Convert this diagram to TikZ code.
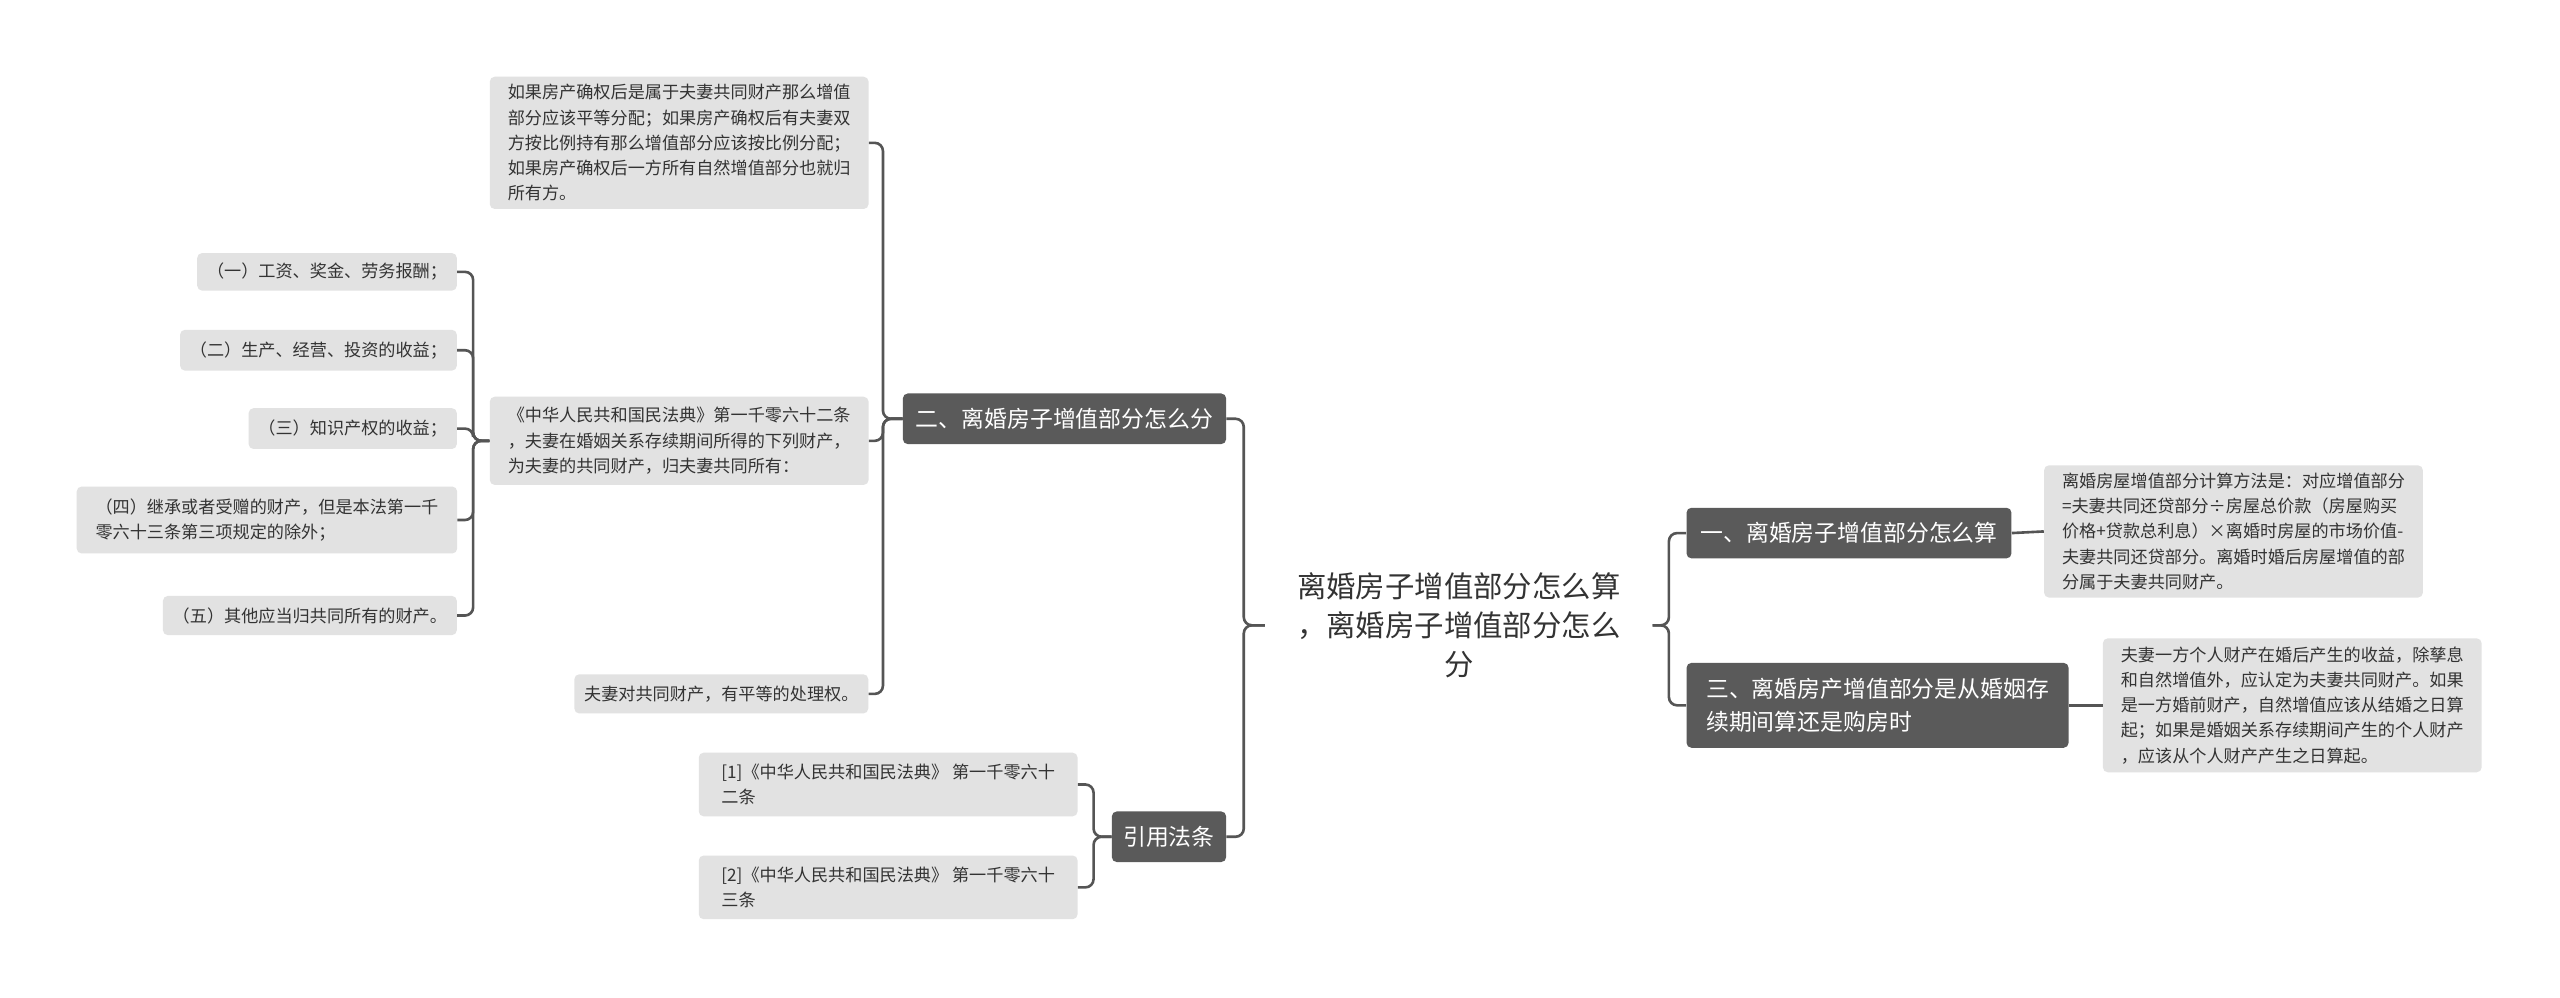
\documentclass[tikz,border=0pt]{standalone}
\usepackage{fontspec}
\setmainfont{Noto Sans CJK SC}
\begin{document}
\begin{tikzpicture}[x=1pt,y=-1pt,
 leaf/.style={fill=leafc,rounded corners=3pt,inner xsep=6pt,inner ysep=4pt,align=left,font=\fontsize{11}{16}\selectfont,text=txt},
 main/.style={fill=darkc,rounded corners=3pt,inner xsep=7pt,inner ysep=5pt,align=left,font=\fontsize{14}{20}\selectfont,text=white},
 conn/.style={draw=linec,line width=1.6pt,rounded corners=5pt}]
\definecolor{leafc}{HTML}{E2E2E2}
\definecolor{darkc}{HTML}{5A5A5A}
\definecolor{linec}{HTML}{555555}
\definecolor{txt}{HTML}{333333}
\useasboundingbox[fill=white] (0,0) rectangle (1568,611);
\node[align=center,font=\fontsize{18}{24}\selectfont,text=txt,text width=215pt,inner sep=11pt] (c) at (893.5,383) {离婚房子增值部分怎么算\\，离婚房子增值部分怎么\\分};
\node[main,minimum width=199pt,minimum height=31pt] (n1) at (1132.5,326.5) {一、离婚房子增值部分怎么算};
\node[main,minimum width=234pt,minimum height=52pt] (n3) at (1150,432) {三、离婚房产增值部分是从婚姻存\\续期间算还是购房时};
\node[leaf,minimum width=232pt,minimum height=81pt,font=\fontsize{10.5}{15.5}\selectfont] (l1) at (1368,325.5) {离婚房屋增值部分计算方法是：对应增值部分\\=夫妻共同还贷部分÷房屋总价款（房屋购买\\价格+贷款总利息）×离婚时房屋的市场价值-\\夫妻共同还贷部分。离婚时婚后房屋增值的部\\分属于夫妻共同财产。};
\node[leaf,minimum width=232pt,minimum height=82pt,font=\fontsize{10.5}{15.5}\selectfont] (l3) at (1404,432) {夫妻一方个人财产在婚后产生的收益，除孳息\\和自然增值外，应认定为夫妻共同财产。如果\\是一方婚前财产，自然增值应该从结婚之日算\\起；如果是婚姻关系存续期间产生的个人财产\\，应该从个人财产产生之日算起。};
\node[main,minimum width=198pt,minimum height=31pt] (n2) at (652,256.5) {二、离婚房子增值部分怎么分};
\node[main,minimum width=70pt,minimum height=31pt] (n4) at (716,512.5) {引用法条};
\node[leaf,minimum width=232pt,minimum height=81pt,font=\fontsize{10.5}{15.5}\selectfont] (a) at (416,87.5) {如果房产确权后是属于夫妻共同财产那么增值\\部分应该平等分配；如果房产确权后有夫妻双\\方按比例持有那么增值部分应该按比例分配；\\如果房产确权后一方所有自然增值部分也就归\\所有方。};
\node[leaf,minimum width=232pt,minimum height=54pt,font=\fontsize{10.5}{15.5}\selectfont] (b) at (416,270) {《中华人民共和国民法典》第一千零六十二条\\，夫妻在婚姻关系存续期间所得的下列财产，\\为夫妻的共同财产，归夫妻共同所有：};
\node[leaf,minimum height=24pt,anchor=east,font=\fontsize{10.5}{15.5}\selectfont] (cc) at (532,425) {夫妻对共同财产，有平等的处理权。};
\node[leaf,minimum height=23pt,anchor=east,font=\fontsize{10.5}{15.5}\selectfont] (b1) at (280,166.5) {（一）工资、奖金、劳务报酬；};
\node[leaf,minimum height=25pt,anchor=east,font=\fontsize{10.5}{15.5}\selectfont] (b2) at (280,214.5) {（二）生产、经营、投资的收益；};
\node[leaf,minimum height=25pt,anchor=east,font=\fontsize{10.5}{15.5}\selectfont] (b3) at (280,262.5) {（三）知识产权的收益；};
\node[leaf,minimum width=233pt,minimum height=41pt,font=\fontsize{10.5}{15.5}\selectfont] (b4) at (163.5,318.5) {（四）继承或者受赠的财产，但是本法第一千\\零六十三条第三项规定的除外；};
\node[leaf,minimum height=24pt,anchor=east,font=\fontsize{10.5}{15.5}\selectfont] (b5) at (280,377) {（五）其他应当归共同所有的财产。};
\node[leaf,minimum width=232pt,minimum height=39pt,font=\fontsize{10.5}{15.5}\selectfont] (r1) at (544,480.5) {[1]《中华人民共和国民法典》 第一千零六十\\二条};
\node[leaf,minimum width=232pt,minimum height=39pt,font=\fontsize{10.5}{15.5}\selectfont] (r2) at (544,543.5) {[2]《中华人民共和国民法典》 第一千零六十\\三条};
\foreach \t in {n1,n3} \draw[conn] (c.east) -- ++(10,0) |- (\t.west);
\draw[conn] (n1.east) -- (l1.west);
\draw[conn] (n3.east) -- (l3.west);
\foreach \t in {n2,n4} \draw[conn] (c.west) -- ++(-13,0) |- (\t.east);
\foreach \t in {a,b,cc} \draw[conn] (n2.west) -- ++(-12,0) |- (\t.east);
\foreach \t in {b1,b2,b3,b4,b5} \draw[conn] (b.west) -- ++(-10,0) |- (\t.east);
\foreach \t in {r1,r2} \draw[conn] (n4.west) -- ++(-11,0) |- (\t.east);
\end{tikzpicture}
\end{document}
